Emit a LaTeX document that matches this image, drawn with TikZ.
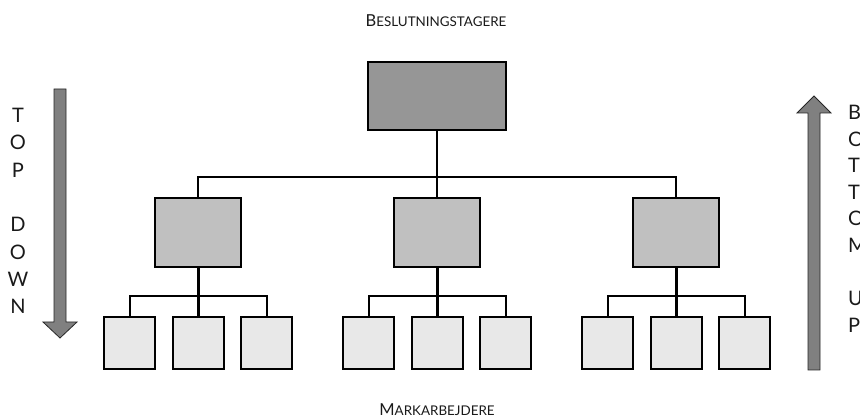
\documentclass[tikz,border=0pt]{standalone}
\usepackage{fontspec}
\setmainfont{Lato}
\definecolor{topfill}{HTML}{969696}
\definecolor{midfill}{HTML}{C0C0C0}
\definecolor{leaffill}{HTML}{E8E8E8}
\definecolor{arrfill}{HTML}{808080}
\definecolor{txt}{HTML}{1A1A1A}
\newcommand{\fakesc}[2]{{\fontsize{16.5}{16.5}\selectfont #1}{\fontsize{13.4}{13.4}\selectfont #2}}
\begin{document}
\begin{tikzpicture}[x=1pt,y=-1pt,
  boxbase/.style={draw=black, line width=2pt, inner sep=0pt, rectangle},
  topbox/.style={boxbase, fill=topfill, minimum width=138pt, minimum height=68pt},
  midbox/.style={boxbase, fill=midfill, minimum width=86pt, minimum height=69pt},
  leafbox/.style={boxbase, fill=leaffill, minimum width=51pt, minimum height=52pt},
  conn/.style={draw=black, line width=2pt},
  thickconn/.style={draw=black, line width=3pt},
  bigarrow/.style={draw=black!85, line width=0.8pt, fill=arrfill, line join=miter},
  label/.style={text=txt, inner sep=0pt}
]
\useasboundingbox (0,0) rectangle (860,419);

% top
\node[topbox] (top) at (437,96) {};
% middle level
\node[midbox] (m1) at (198,232.5) {};
\node[midbox] (m2) at (437,232.5) {};
\node[midbox] (m3) at (676,232.5) {};
% leaves
\foreach \g/\cx in {1/198,2/437,3/676}{
  \node[leafbox] (l\g a) at (\cx-68.5,343) {};
  \node[leafbox] (l\g b) at (\cx,343) {};
  \node[leafbox] (l\g c) at (\cx+68.5,343) {};
}
% connectors top level
\draw[conn] (top.south) -- (m2.north);
\draw[conn] (m1.north) -- ++(0,-20) -| (m3.north);
% connectors lower level
\foreach \g in {1,2,3}{
  \draw[conn] (l\g a.north) -- ++(0,-20) -| (l\g c.north);
  \draw[thickconn] (m\g.south) -- (l\g b.north);
}

% arrows
\draw[bigarrow] (54,89) -- (66,89) -- (66,322) -- (77,322) -- (60,338) -- (43,322) -- (54,322) -- cycle;
\draw[bigarrow] (808,370) -- (808,113) -- (797,113) -- (814,96) -- (831,113) -- (820,113) -- (820,370) -- cycle;

% labels
\node[label, anchor=base] (beslut) at (436,27) {\fakesc{B}{ESLUTNINGSTAGERE}};
\node[label, anchor=base] (markarb) at (437,416) {\fakesc{M}{ARKARBEJDERE}};
\node[label, anchor=north, align=center, font=\fontsize{20}{27.3}\selectfont] (topdown) at (18,108)
  {T\\O\\P\\[27.3pt]D\\O\\W\\N};
\node[label, anchor=north west, align=left, font=\fontsize{20}{26.6}\selectfont] (bottomup) at (848,105)
  {B\\O\\T\\T\\O\\M\\[26.6pt]U\\P};
\end{tikzpicture}
\end{document}
